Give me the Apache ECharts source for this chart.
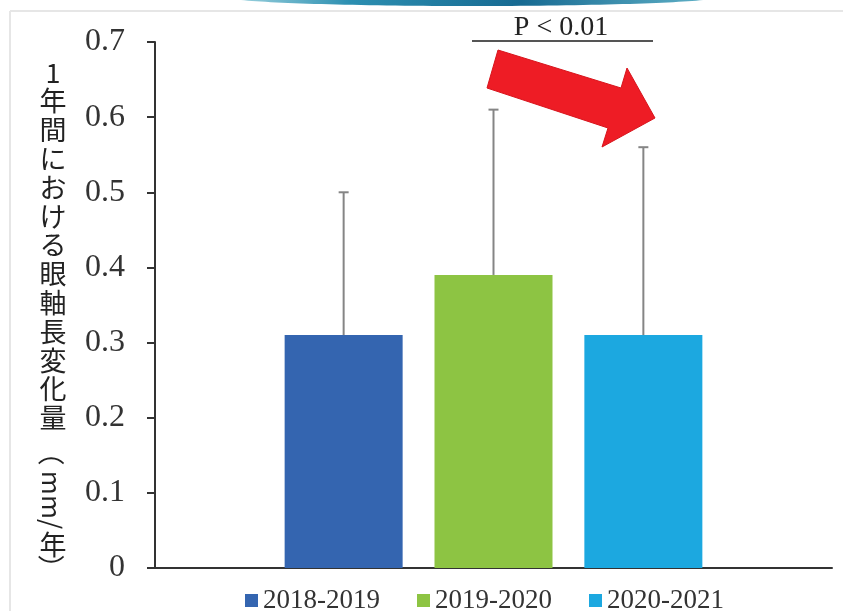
<!DOCTYPE html>
<html><head><meta charset="utf-8">
<script src="https://cdn.jsdelivr.net/npm/echarts@6/dist/echarts.min.js"></script>
<style>html,body{margin:0;padding:0;background:#fff}#c{width:843px;height:611px}</style>
</head><body><div id="c"></div>
<script>
// ---- data ----
const categories = ['全体'];
const seriesNames = ['2018-2019', '2019-2020', '2020-2021'];
const means = [0.31, 0.39, 0.31];
const upperErr = [0.50, 0.61, 0.56];
const yMin = 0, yMax = 0.7, yStep = 0.1;
const pLabel = 'P < 0.01';
const yTitleUpright = ['1','年','間','に','お','け','る','眼','軸','長','変','化','量'];

// ---- styles ----
const colors = ['#3465b0', '#8dc443', '#1ca8e0'];
const BAR_W = 118, BAR_GAP = 0.27;
const serif = '"Liberation Serif", "Times New Roman", serif';
const cjk = '"Noto Sans CJK JP", sans-serif';

const chart = echarts.init(document.getElementById('c'), null, {renderer: 'canvas'});

const barSeries = seriesNames.map((n, i) => ({
  name: n, type: 'bar', data: [means[i]],
  barWidth: BAR_W, barGap: (BAR_GAP * 100) + '%',
  itemStyle: {color: colors[i]},
  emphasis: {disabled: true}, z: 2
}));

const errData = means.map((m, i) => [0, m, upperErr[i], i]);

const errSeries = {
  type: 'custom', name: 'err', z: 5, silent: true,
  data: errData,
  encode: {x: 0, y: [1, 2]},
  renderItem: function (params, api) {
    const idx = api.value(3);
    const off = (idx - (seriesNames.length - 1) / 2) * BAR_W * (1 + BAR_GAP);
    const top = api.coord([0, api.value(2)]);
    const base = api.coord([0, api.value(1)]);
    const x = top[0] + off;
    const st = {stroke: '#858585', lineWidth: 2};
    return {type: 'group', children: [
      {type: 'line', shape: {x1: x, y1: base[1], x2: x, y2: top[1]}, style: st},
      {type: 'line', shape: {x1: x - 5, y1: top[1], x2: x + 5, y2: top[1]}, style: st}
    ]};
  }
};

const option = {
  backgroundColor: '#fff',
  animation: false,
  grid: {left: 155, right: 11, top: 42, bottom: 43, containLabel: false},
  legend: {
    data: seriesNames, left: 240, top: 582, icon: 'rect',
    itemWidth: 13, itemHeight: 13, itemGap: 37,
    textStyle: {fontFamily: serif, fontSize: 27, color: '#333'},
    selectedMode: false
  },
  xAxis: {
    type: 'category', data: categories,
    axisLine: {show: true, lineStyle: {color: '#333', width: 2}},
    axisTick: {show: false}, axisLabel: {show: false}, splitLine: {show: false}
  },
  yAxis: {
    type: 'value', min: yMin, max: yMax, interval: yStep,
    axisLine: {show: true, lineStyle: {color: '#333', width: 2}},
    axisTick: {show: true, length: 8, lineStyle: {color: '#333', width: 2}},
    splitLine: {show: false},
    axisLabel: {
      margin: 30, fontFamily: serif, fontSize: 32, color: '#333',
      formatter: v => (v === 0 ? '0' : v.toFixed(1))
    }
  },
  series: [...barSeries, errSeries],
  graphic: [
    // frame
    {type: 'line', shape: {x1: 10, y1: 11, x2: 843, y2: 11}, style: {stroke: '#e6e6e6', lineWidth: 2}, z: 0},
    {type: 'line', shape: {x1: 10, y1: 11, x2: 10, y2: 611}, style: {stroke: '#e6e6e6', lineWidth: 2}, z: 0},
    // top teal band
    {type: 'ellipse', shape: {cx: 472, cy: -3, rx: 245, ry: 9}, style: {
      fill: new echarts.graphic.LinearGradient(0, 0, 1, 0, [
        {offset: 0, color: '#a6d8e2'}, {offset: 0.25, color: '#2c8fb1'},
        {offset: 0.6, color: '#176a92'}, {offset: 1, color: '#63b4c9'}])
    }, z: 0},
    // y title
    {type: 'text', x: 53, y: 58, style: {
      text: yTitleUpright.join('\n'), font: '27px ' + cjk, lineHeight: 28.8,
      fill: '#222', align: 'center', verticalAlign: 'top'
    }},
    {type: 'text', x: 51, y: 452, rotation: -Math.PI / 2, style: {
      text: '（', font: '27px ' + cjk, fill: '#222', align: 'center', verticalAlign: 'middle'}},
    {type: 'text', x: 52, y: 500, rotation: -Math.PI / 2, style: {
      text: 'mm/', font: '26px ' + cjk, fill: '#222', align: 'center', verticalAlign: 'middle'}},
    {type: 'text', x: 53, y: 545, style: {
      text: '年', font: '27px ' + cjk, fill: '#222', align: 'center', verticalAlign: 'middle'}},
    {type: 'text', x: 51, y: 568, rotation: -Math.PI / 2, style: {
      text: '）', font: '27px ' + cjk, fill: '#222', align: 'center', verticalAlign: 'middle'}},
    // P value annotation
    {type: 'text', x: 561, y: 28, style: {
      text: pLabel, font: '28px ' + serif, fill: '#222', align: 'center', verticalAlign: 'middle'}},
    {type: 'line', shape: {x1: 472, y1: 41, x2: 653, y2: 41}, style: {stroke: '#555', lineWidth: 2}},
    // red arrow
    {type: 'polygon', shape: {points: [[498, 50], [621, 88], [627, 68], [655, 118], [602, 147], [608, 128], [487, 88]]},
      style: {fill: '#ee1c25', stroke: '#d8141c', lineWidth: 1}, z: 10}
  ]
};
chart.setOption(option);
</script></body></html>
